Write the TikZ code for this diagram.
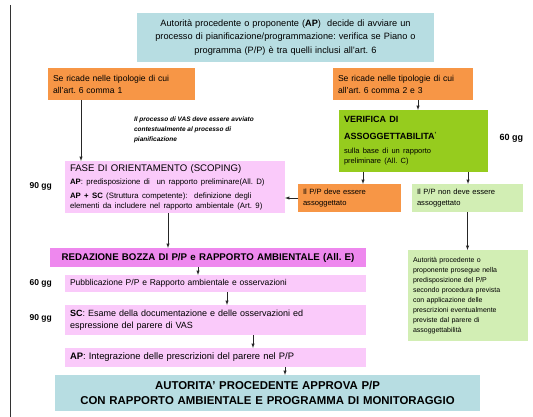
\documentclass[tikz,border=0pt]{standalone}
\usepackage{fontspec}
\setmainfont{Liberation Sans}
\usepackage{tikz}
\usetikzlibrary{arrows,calc,positioning}
\usepackage{xcolor}
\definecolor{LightCyan}{RGB}{183,221,226}
\definecolor{DarkOrange}{RGB}{247,150,70}
\definecolor{LimeGreen}{RGB}{150,204,30}
\definecolor{PaleGreen}{RGB}{210,238,180}
\definecolor{PalePink}{RGB}{250,202,250}
\definecolor{DarkPink}{RGB}{238,136,238}
\tikzset{
	box/.style={anchor=north west, inner xsep=5pt, inner ysep=2pt, outer sep=0pt, align=left},
	arrow/.style={-latex, line width=.5pt, black!85},
	ggLabel/.style={anchor=west, font=\fontsize{8.5}{10}\selectfont\bfseries}
}
\newcommand{\smallTxt}{\fontsize{7}{10}\selectfont}
\frenchspacing

\begin{document}
\begin{tikzpicture}[x=1pt,y=-1pt]
	\useasboundingbox (0,0) rectangle (533,417);
	\draw[line width=.6pt, black!80] (10,5) -- (10,417);
%
	%upper part
	\node[box, fill=LightCyan, text width=287pt, minimum height=49pt, align=center, font=\fontsize{9.2}{13.5}\selectfont] (ap) at (137,13)
		{Autorità procedente o proponente (\textbf{AP})\ \ decide di avviare un\\processo di pianificazione/programmazione: verifica se Piano o\\programma (P/P) è tra quelli inclusi all'art. 6};
	\node[box, fill=DarkOrange, text width=137pt, minimum height=32pt, font=\fontsize{8.6}{12}\selectfont] (ricadeA) at (48,68)
		{Se ricade nelle tipologie di cui\\all'art. 6 comma 1};
	\node[box, fill=DarkOrange, text width=130pt, minimum height=32pt, font=\fontsize{8.6}{12}\selectfont] (ricadeB) at (333,68)
		{Se ricade nelle tipologie di cui\\all'art. 6 comma 2 e 3};
	\node[box, anchor=north west, inner sep=0pt, font=\fontsize{6.5}{10}\selectfont\bfseries\itshape] (note) at (134,117)
		{Il processo di VAS deve essere avviato\\contestualmente al processo di\\pianificazione};
	\node[box, fill=LimeGreen, text width=139pt, minimum height=62pt] (verifica) at (339,110)
		{{\fontsize{9}{17}\selectfont\bfseries VERIFICA DI\\ASSOGGETTABILITA\textsuperscript{'}\par}
		\vspace{3pt}
		{\fontsize{7.5}{10.5}\selectfont sulla base di un rapporto\\preliminare (All. C)\par}};
	\node[ggLabel, font=\fontsize{9}{10}\selectfont\bfseries] (ggVer) at (496,138) {60 gg};
%
	%scoping
	\node[box, fill=PalePink, text width=210pt, minimum height=52pt] (fase) at (65,161)
		{{\fontsize{9.6}{11}\selectfont FASE DI ORIENTAMENTO (SCOPING)\par}
		\vspace{3pt}
		{\fontsize{7.8}{10}\selectfont \textbf{AP}: predisposizione di\ \ un rapporto preliminare(All. D)\\[4pt]\textbf{AP + SC} (Struttura competente):\ \ definizione degli\\elementi da includere nel rapporto ambientale (Art. 9)\par}};
	\node[ggLabel] (ggFase) at (26,186) {90 gg};
	\node[box, fill=DarkOrange, text width=93pt, minimum height=28pt, font=\fontsize{7.6}{11}\selectfont] (deve) at (298,184)
		{Il P/P deve essere\\assoggettato};
	\node[box, fill=PaleGreen, text width=101pt, minimum height=28pt, font=\fontsize{7.6}{11}\selectfont] (nonDeve) at (412,184)
		{Il P/P non deve essere\\assoggettato};
	\node[box, fill=PaleGreen, text width=110pt, minimum height=91pt, font=\smallTxt] (prosegue) at (408,250)
		{Autorità procedente o\\proponente prosegue nella\\predisposizione del P/P\\secondo procedura prevista\\con applicazione delle\\prescrizioni eventualmente\\previste dal parere di\\assoggettabilità};
%
	%lower part
	\node[box, fill=DarkPink, text width=306pt, minimum height=19pt, align=center, font=\fontsize{9.7}{11}\selectfont\bfseries] (redaz) at (50,248)
		{REDAZIONE BOZZA DI P/P e RAPPORTO AMBIENTALE (All. E)};
	\node[box, fill=PalePink, text width=291pt, minimum height=17pt, font=\fontsize{8.5}{10}\selectfont] (pubbl) at (65,275)
		{Pubblicazione P/P e Rapporto ambientale e osservazioni};
	\node[ggLabel] (ggPubbl) at (26,283) {60 gg};
	\node[box, fill=PalePink, text width=291pt, minimum height=30pt, font=\fontsize{9}{12}\selectfont] (esame) at (65,305)
		{\textbf{SC}: Esame della documentazione e delle osservazioni ed\\espressione del parere di VAS};
	\node[ggLabel] (ggEsame) at (26,318) {90 gg};
	\node[box, fill=PalePink, text width=291pt, minimum height=19pt, font=\fontsize{9.4}{10}\selectfont] (integr) at (65,348)
		{\textbf{AP}: Integrazione delle prescrizioni del parere nel P/P};
	\node[box, fill=LightCyan, text width=415pt, minimum height=36pt, align=center, font=\fontsize{11.4}{15.5}\selectfont\bfseries] (approva) at (55,375)
		{AUTORITA' PROCEDENTE APPROVA P/P\\CON RAPPORTO AMBIENTALE E PROGRAMMA DI MONITORAGGIO};
%
	%connectors
	\draw[arrow] ($(ricadeA.south west)+(33,0)$) coordinate (s1) -- (s1 |- fase.north);
	\draw[arrow] ($(ricadeB.south west)+(85,0)$) coordinate (s2) -- (s2 |- verifica.north);
	\draw[arrow] ($(verifica.south west)+(24,0)$) coordinate (s3) -- (s3 |- deve.north);
	\draw[arrow] ($(verifica.south west)+(129,0)$) coordinate (s4) -- (s4 |- nonDeve.north);
	\draw[arrow] (deve.west) -- (deve.west -| fase.east);
	\draw[arrow] (nonDeve.south) -- (nonDeve.south |- prosegue.north);
	\draw[arrow] ($(fase.south west)+(103,0)$) coordinate (s5) -- (s5 |- redaz.north);
	\draw[arrow] ($(redaz.south west)+(148,0)$) coordinate (s6) -- (s6 |- pubbl.north);
	\draw[arrow] ($(pubbl.south west)+(162,0)$) coordinate (s7) -- (s7 |- esame.north);
	\draw[arrow] ($(esame.south west)+(188,0)$) coordinate (s8) -- (s8 |- integr.north);
	\draw[arrow] ($(integr.south west)+(220,0)$) coordinate (s9) -- (s9 |- approva.north);
\end{tikzpicture}
\end{document}
